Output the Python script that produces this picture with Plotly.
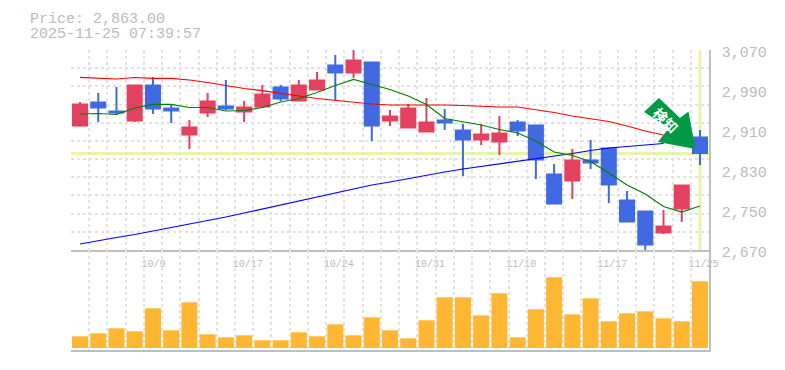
import plotly.graph_objects as go

W, H = 785, 370
labels = ["10/9", "10/17", "10/24", "10/31", "11/10", "11/17", "11/25"]
label_idx = [4, 9, 14, 19, 24, 29, 34]
y_ticks = [2670, 2750, 2830, 2910, 2990, 3070]
current_price = 2863

# candle levels, in pixels of the price panel
body_top_px = [104,102,111,85,85,108,127,101,106,107,94,87,85,80,65,60,62,116,108,122,120,130,134,133,122,125,174,160,160,148,200,211,226,185,137]
body_bot_px = [126,108,113,121,109,111,135,113,109,112,107,99,101,90,73,73,126,121,128,132,123,140,140,142,131,160,204,181,163,185,222,245,233,209,153.5]
high_px = [102,93,87,85,77,104,120,93,80,101,85,85,80,72,55,50,62,110,104,98,109,124,124,116,120,125,164,149,140,148,191,211,210,185,130]
low_px = [127,122,115,122,114,123,149,117,110,122,108,101,101,90,100,78,141,126,128,132,130,176,145,155,136,179,204,199,169,203,222,251,234,222,165]
is_up = [1,0,0,1,0,0,1,1,0,1,1,0,1,1,0,1,0,1,1,1,0,0,1,1,0,0,0,1,0,0,0,0,1,1,0]

def px2p(v):
    return 2670 + (250 - v) * 2

high = [px2p(v) for v in high_px]
low = [px2p(v) for v in low_px]
top = [px2p(v + 0.5) for v in body_top_px]
bot = [px2p(v - 0.5) for v in body_bot_px]
opens = [b if u else t for t, b, u in zip(top, bot, is_up)]
closes = [t if u else b for t, b, u in zip(top, bot, is_up)]

ma_red_px = [77.3,78.3,79,77.5,78.3,78.3,80,82.5,85.5,88.5,90.7,93,96,98.5,100.5,102.5,104,105,105,104.5,105,105.5,106.5,107,107,109.5,112.5,116,118.5,121.5,126,131,135]
ma_green_px = [114,113.5,114.5,108,104.3,104.3,107.5,107.5,111,110.5,107.5,102,98.5,92.5,85.5,79.5,84.5,89.5,96,104.5,118.5,121.5,125,129.5,133,141,152,155.5,161.5,173,185,194,206.5,212,206]
ma_blue_px = [244,240.5,237.5,234.5,231,228,224.5,221,217,213,209,205,201,197,193,188.5,185,182,178.5,175,172,169,166.5,164,161.5,159,156,153.5,150.5,148,146.5,145,143.5]
ma_red = [px2p(v) for v in ma_red_px]
ma_green = [px2p(v) for v in ma_green_px]
ma_blue = [px2p(v) for v in ma_blue_px]

volume = [11.7,14.7,19.7,16.7,39.7,17.7,45.7,13.7,10.7,12.7,7.7,7.7,15.7,11.7,23.7,12.7,30.7,17.7,9.7,27.7,50.7,50.7,32.7,54.7,10.7,38.7,70.7,33.7,49.7,26.7,34.7,36.7,29.7,26.7,66.7]

idx = list(range(len(volume)))
GRID = "#e2e2e2"
TXT = "#bbbbbb"
AXIS = "#bfbfbf"
MONO = "Liberation Mono, monospace"
slot = (709.1 - 70.9) / 35
tick_pos = [i + (len(t) * 5.8 / 2 - 11) / slot for i, t in zip(label_idx, labels)]
x_grid = [i - 0.5 for i in idx] + [idx[-1] + 0.5]
y_grid = [2670 + k * 400 / 11 for k in range(12)]

fig = go.Figure()
for vals, col in ((ma_blue, "#0000ff"), (ma_red, "#ff0000"), (ma_green, "#008000")):
    fig.add_trace(go.Scatter(x=idx[:len(vals)], y=vals, mode="lines", line=dict(color=col, width=1.2), xaxis="x", yaxis="y", showlegend=False))
fig.add_trace(go.Candlestick(
    x=idx, open=opens, high=high, low=low, close=closes, xaxis="x", yaxis="y", showlegend=False, whiskerwidth=0,
    increasing=dict(line=dict(color="#e2425f", width=2), fillcolor="#e2425f"),
    decreasing=dict(line=dict(color="#4169e1", width=2), fillcolor="#4169e1"),
))
fig.add_trace(go.Bar(x=idx, y=volume, marker=dict(color="#ffb733", line_width=0), xaxis="x2", yaxis="y2", showlegend=False))

HILITE = "#e6f6a8"
shapes = [
    dict(type="line", xref="x domain", x0=0, x1=1, yref="y", y0=current_price, y1=current_price, line=dict(color=HILITE, width=3), layer="below"),
    dict(type="line", xref="x", x0=idx[-1], x1=idx[-1], yref="y domain", y0=0, y1=1, line=dict(color=HILITE, width=3), layer="below"),
    dict(type="path", xref="x", yref="y", xsizemode="pixel", ysizemode="pixel", xanchor=idx[-1], yanchor=current_price,
         path="M -41 55.5 L -56 41.5 L -31 25.5 L -42 11.5 L -4.5 4.5 L -11.5 42 L -20 35.5 Z",
         fillcolor="#009944", line=dict(width=0), layer="above"),
]

annotations = [
    dict(text="Price: 2,863.00", xref="paper", yref="paper", x=30 / W, y=1 - 19.5 / H, xanchor="left", yanchor="middle", showarrow=False, xshift=-2, font=dict(family=MONO, size=15, color=TXT)),
    dict(text="2025-11-25 07:39:57", xref="paper", yref="paper", x=30 / W, y=1 - 34.5 / H, xanchor="left", yanchor="middle", showarrow=False, xshift=-2, font=dict(family=MONO, size=15, color=TXT)),
    dict(text="<b>検知</b>", xref="x", yref="y", x=idx[-1], y=current_price, xshift=-34, yshift=33.5, textangle=45, showarrow=False, font=dict(family="Noto Sans CJK JP", size=14, color="white")),
]

x_common = dict(range=[-0.5, idx[-1] + 0.5], domain=[70.9 / W, 709.1 / W], showgrid=False, zeroline=False, automargin=False,
                showline=True, linecolor=AXIS, linewidth=1.5, ticks="",
                minor=dict(tickmode="array", tickvals=x_grid, showgrid=True, gridcolor=GRID, griddash="3px,3px", gridwidth=1.5, ticks=""))
fig.update_layout(
    width=W, height=H, autosize=False, margin=dict(l=0, r=0, t=0, b=0, pad=0),
    paper_bgcolor="white", plot_bgcolor="white", boxgap=0.23, boxgroupgap=0, bargap=0.12,
    shapes=shapes, annotations=annotations,
    xaxis=dict(anchor="y", tickmode="array", tickvals=tick_pos, ticktext=labels, rangeslider=dict(visible=False), ticklabelstandoff=3,
               tickfont=dict(family=MONO, size=10, color=TXT), **x_common),
    xaxis2=dict(anchor="y2", matches="x", showticklabels=False, **x_common),
    yaxis=dict(domain=[(H - 250) / H, (H - 50) / H], range=[2670, 3070], side="right", anchor="x", tickmode="array", tickvals=y_ticks, automargin=False,
               tickformat=",", showgrid=False, zeroline=False, showline=True, linecolor=AXIS, linewidth=1.5, ticks="", ticklabelstandoff=8, ticklabelshift=2,
               tickfont=dict(family=MONO, size=15, color=TXT),
               minor=dict(tickmode="array", tickvals=y_grid, showgrid=True, gridcolor=GRID, griddash="3px,3px", gridwidth=1.5, ticks="")),
    yaxis2=dict(domain=[(H - 350) / H, (H - 250) / H], range=[-2, 98], side="right", anchor="x2", showticklabels=False, showgrid=False, zeroline=False, automargin=False,
                showline=True, linecolor=AXIS, linewidth=1.5, ticks=""),
)
fig.write_html("out.html", config=dict(displayModeBar=False), post_script="document.body.style.margin='0';")
